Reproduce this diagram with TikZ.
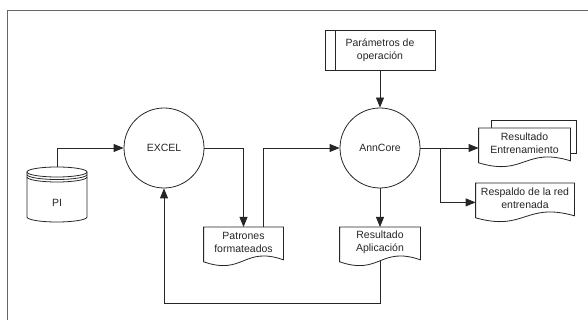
\documentclass[tikz,border=0pt]{standalone}
\usepackage{fontspec}
\setmainfont{Liberation Sans}
\usepackage{tikz}
\usetikzlibrary{calc,arrows.meta}

\tikzset{
  proc/.style={circle, draw=\cLine, minimum size=80pt, inner sep=0pt},
  doc/.style={minimum width=#1, minimum height=30pt, inner sep=0pt, align=center, anchor=north},
  arr/.style={draw=\cLine, -{Triangle[length=10pt,width=8pt]}},
}

% wavy document outline round a node
\newcommand{\docshape}[1]{%
  \draw[\cLine, fill=white] ($(#1.south west)+(0,-4)$) -- (#1.north west) -- (#1.north east)
    -- ($(#1.south east)+(0,-2)$) .. controls ($(#1.south)+(0,12)$) and ($(#1.south)+(0,-18)$)
    .. ($(#1.south west)+(0,-4)$) -- cycle;}

\begin{document}
\begin{tikzpicture}[x=1pt, y=1pt, line width=0.8pt, font=\fontsize{10.5}{13.5}\selectfont]
\def\cLine{black!85}
\def\cFrame{black!60}
\def\cText{black!85}
\useasboundingbox (0,0) rectangle (588,320);
\draw[\cFrame] (7,0) -- (7,310) -- (588,310);

% processes
\node[proc, text=\cText] (excel) at (164,172) {EXCEL};
\node[proc, text=\cText] (ann) at (380,172) {AnnCore};

% PI data store
\draw[\cLine] (27,148) -- (27,103) arc[start angle=180, end angle=360, x radius=30, y radius=5] -- (87,148);
\draw[\cLine] (57,148) ellipse[x radius=30, y radius=5];
\draw[\cLine] (27,145.5) arc[start angle=180, end angle=360, x radius=30, y radius=5];
\draw[\cLine] (27,143) arc[start angle=180, end angle=360, x radius=30, y radius=5];
\node[text=\cText] (pi) at (57,117) {PI};
\coordinate (pitop) at (57,153);

% operation parameters
\node[draw=\cLine, minimum width=110pt, minimum height=40pt, align=center, text=\cText] (par) at (380,270) {Parámetros de\\operación};
\draw[\cLine] ([xshift=11pt]par.north west) -- ([xshift=11pt]par.south west);

% documents
\node[doc=79pt] (pat) at (243.5,93) {};
\docshape{pat}
\node[text=\cText, align=center] at (pat) {Patrones\\formateados};

\node[doc=80pt] (resA) at (380,93) {};
\docshape{resA}
\node[text=\cText, align=center] at (resA) {Resultado\\Aplicación};

\node[doc=91pt] (resE) at (524.5,192) {};
\draw[\cLine] ([xshift=13pt]resE.north west) -- ++(0,8) -- ++(85,0) -- ++(0,-33) -- ++(-7,0);
\docshape{resE}
\node[text=\cText, align=center] at (resE) {Resultado\\Entrenamiento};

\node[doc=98pt] (resp) at (525,137) {};
\docshape{resp}
\node[text=\cText, align=center] at (resp) {Respaldo de la red\\entrenada};

% flows
\draw[arr] (pitop) |- (excel.west);
\draw[arr] (excel.east) -| (pat.north);
\draw[arr] ($(pat.north)+(19.5,0)$) |- (ann.west);
\draw[arr] (par.south) -- (ann.north);
\draw[arr] (ann.south) -- (resA.north);
\draw[arr] (ann.east) -- (ann.east -| resE.west);
\coordinate (split) at (440,172);
\draw[arr] (split) |- ([yshift=-4pt]resp.west);
\draw[arr] ($(resA.south)+(0,-3)$) -- ++(0,-43) -| (excel.south);
\end{tikzpicture}
\end{document}
